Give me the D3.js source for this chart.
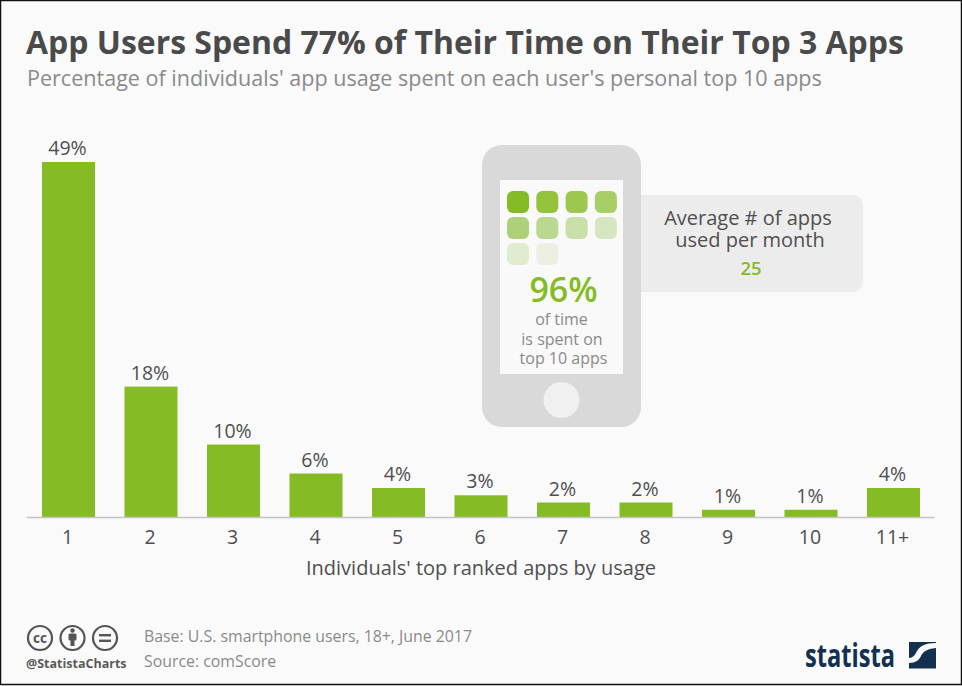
<!DOCTYPE html>
<html>
<head>
<meta charset="utf-8">
<script src="https://cdn.jsdelivr.net/npm/d3@7"></script>
<style>
    html, body { margin: 0; padding: 0; background: #fafafa; }
    svg { display: block; }
    text { font-family: "Open Sans", sans-serif; }
</style>
</head>
<body>
<div id="chart"></div>
<script>
const data = [
    {rank: "1", value: 49},
    {rank: "2", value: 18},
    {rank: "3", value: 10},
    {rank: "4", value: 6},
    {rank: "5", value: 4},
    {rank: "6", value: 3},
    {rank: "7", value: 2},
    {rank: "8", value: 2},
    {rank: "9", value: 1},
    {rank: "10", value: 1},
    {rank: "11+", value: 4}
];

// fading app icons inside the phone
const appIcons = [
    {col: 0, row: 0, color: "#85bb24"},
    {col: 1, row: 0, color: "#93c23c"},
    {col: 2, row: 0, color: "#9dc84e"},
    {col: 3, row: 0, color: "#a8ce66"},
    {col: 0, row: 1, color: "#aed07a"},
    {col: 1, row: 1, color: "#bad88f"},
    {col: 2, row: 1, color: "#c8dfa8"},
    {col: 3, row: 1, color: "#d7e6c0"},
    {col: 0, row: 2, color: "#e0ebd0"},
    {col: 1, row: 2, color: "#ebf0e2"}
];

const W = 962, H = 686;
const green = "#85bb24", dark = "#4f4f4f", grey = "#8a8a8a";

const svg = d3.select("#chart").append("svg")
    .attr("width", W)
    .attr("height", H);

svg.append("rect")
    .attr("x", 0.5).attr("y", 0.5)
    .attr("width", W - 1).attr("height", H - 2)
    .attr("fill", "#fafafa")
    .attr("stroke", "#111")
    .attr("stroke-width", 1.5);

function addText(x, y, str, size, color, opts = {}) {
    const t = svg.append("text")
        .attr("x", x).attr("y", y)
        .attr("font-size", size)
        .attr("fill", color)
        .attr("font-weight", opts.weight || 400)
        .attr("text-anchor", opts.anchor || "start")
        .text(str);
    if (opts.family) t.style("font-family", opts.family);
    return t;
}

// Title
addText(26, 54, "App Users Spend 77% of Their Time on Their Top 3 Apps", 31.95, "#4a4a4a", {weight: 700});
addText(27, 86, "Percentage of individuals' app usage spent on each user's personal top 10 apps", 21.55, grey);

// Scales
const x = d3.scaleBand()
    .domain(data.map(d => d.rank))
    .range([27.25, 934.75])
    .paddingInner(0.3576)
    .paddingOuter(0.1788);

const y = d3.scaleLinear()
    .domain([0, 49])
    .range([517, 162]);

// Bars
svg.append("g").selectAll("rect")
    .data(data)
    .enter()
    .append("rect")
    .attr("x", d => x(d.rank))
    .attr("y", d => y(d.value))
    .attr("width", x.bandwidth())
    .attr("height", d => y(0) - y(d.value))
    .attr("fill", green);

// Value labels
svg.append("g").selectAll("text")
    .data(data)
    .enter()
    .append("text")
    .attr("x", d => x(d.rank) + x.bandwidth() / 2 - 1)
    .attr("y", d => y(d.value) - 7)
    .attr("text-anchor", "middle")
    .attr("font-size", 19.5)
    .attr("fill", dark)
    .text(d => d.value + "%");

// Axis
const axis = svg.append("g")
    .attr("transform", "translate(-1,517)")
    .call(d3.axisBottom(x).tickSize(0).tickPadding(13));
axis.select(".domain").attr("stroke", "#c4c4c4").attr("stroke-width", 1.5);
axis.selectAll("text")
    .style("font-family", '"Open Sans", sans-serif')
    .attr("font-size", 19.5)
    .attr("fill", dark);

addText(481, 575, "Individuals' top ranked apps by usage", 20, dark, {anchor: "middle"});

// Bubble next to the phone
svg.append("rect")
    .attr("x", 620).attr("y", 195)
    .attr("width", 243).attr("height", 97)
    .attr("rx", 10)
    .attr("fill", "#ececec");

// Phone
svg.append("rect")
    .attr("x", 482).attr("y", 145)
    .attr("width", 159).attr("height", 282)
    .attr("rx", 20)
    .attr("fill", "#d9d9d9");
svg.append("rect")
    .attr("x", 500).attr("y", 180)
    .attr("width", 123).attr("height", 194)
    .attr("fill", "#f9f9f9");
svg.append("circle")
    .attr("cx", 561.5).attr("cy", 400)
    .attr("r", 18)
    .attr("fill", "#f0f0f0");

svg.append("g").selectAll("rect")
    .data(appIcons)
    .enter()
    .append("rect")
    .attr("x", d => 507 + d.col * 29.3)
    .attr("y", d => 191 + d.row * 26)
    .attr("width", 22)
    .attr("height", 22)
    .attr("rx", 6)
    .attr("fill", d => d.color);

addText(563.5, 302, "96%", 34, green, {anchor: "middle", weight: 600});
addText(561.5, 325, "of time", 16, grey, {anchor: "middle"});
addText(562, 345, "is spent on", 16, grey, {anchor: "middle"});
addText(563.5, 364, "top 10 apps", 16, grey, {anchor: "middle"});

addText(748, 225, "Average # of apps", 20, dark, {anchor: "middle"});
addText(750, 247, "used per month", 20, dark, {anchor: "middle"});
addText(751, 275, "25", 18.5, green, {anchor: "middle", weight: 600});

// Footer: licence icons
const ccColor = "#555";
[40, 72.5, 105].forEach(cx => {
    svg.append("circle")
        .attr("cx", cx).attr("cy", 638).attr("r", 12)
        .attr("fill", "none")
        .attr("stroke", ccColor)
        .attr("stroke-width", 2.2);
});
addText(40, 642.5, "cc", 13.5, ccColor, {anchor: "middle", weight: 700});
svg.append("circle").attr("cx", 72.5).attr("cy", 630.5).attr("r", 2.2).attr("fill", ccColor);
svg.append("rect").attr("x", 68.5).attr("y", 633.5).attr("width", 8).attr("height", 7).attr("rx", 1.5).attr("fill", ccColor);
svg.append("rect").attr("x", 70.5).attr("y", 638).attr("width", 4).attr("height", 8).attr("fill", ccColor);
svg.append("rect").attr("x", 99).attr("y", 634).attr("width", 12).attr("height", 2.4).attr("fill", ccColor);
svg.append("rect").attr("x", 99).attr("y", 639.6).attr("width", 12).attr("height", 2.4).attr("fill", ccColor);
addText(26, 668, "@StatistaCharts", 12.5, "#5a5a5a", {weight: 700});

addText(144, 642, "Base: U.S. smartphone users, 18+, June 2017", 15.85, grey);
addText(144, 667, "Source: comScore", 15.85, grey);

// Statista logo
addText(805, 667, "statista", 33, "#14304f", {weight: 700})
    .attr("textLength", 90)
    .attr("lengthAdjust", "spacingAndGlyphs");
svg.append("rect")
    .attr("x", 909).attr("y", 642)
    .attr("width", 27).attr("height", 26.5)
    .attr("fill", "#14304f");
svg.append("path")
    .attr("d", "M909,663 C916,663 919,660 921,656 C923,652 926,649 936,648 L936,643 C925,643 920,646 917,651 C915,655 913,658 909,658 Z")
    .attr("fill", "#fafafa");
</script>
</body>
</html>
